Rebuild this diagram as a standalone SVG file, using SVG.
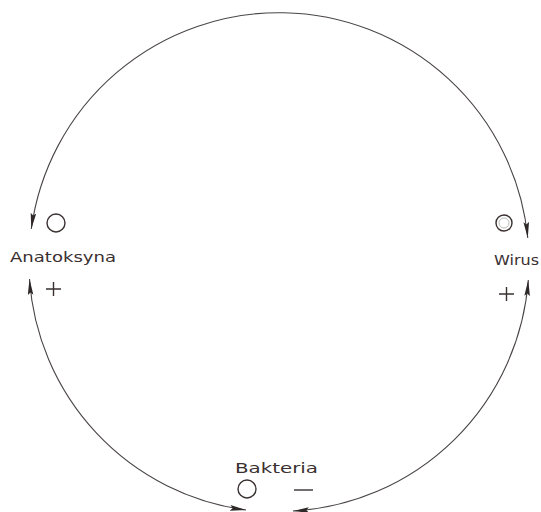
<svg xmlns="http://www.w3.org/2000/svg" width="541" height="512" viewBox="0 0 541 512">
<style>
.arc{fill:none;stroke:#4a4545;stroke-width:1.1}
.sym{fill:none;stroke:#3a3030;stroke-width:1.4}
.lbl{font-family:"DejaVu Sans","Liberation Sans",sans-serif;font-size:14px;fill:#3a3030}
</style>
<defs>
<marker id="ah" viewBox="0 0 16 6" refX="16" refY="3" markerWidth="16" markerHeight="6" markerUnits="userSpaceOnUse" orient="auto-start-reverse">
<path d="M0,0.2 L16,3 L0,5.8 L2.5,3 z" fill="#2e2828"/>
</marker>
</defs>
<rect width="541" height="512" fill="#ffffff"/>
<g id="connectors">
<path class="arc" d="M31.3,229 A250,250 0 0 1 527.8,238" marker-start="url(#ah)" marker-end="url(#ah)"/>
<path class="arc" d="M29.5,279 A250,250 0 0 0 246,510" marker-start="url(#ah)" marker-end="url(#ah)"/>
<path class="arc" d="M528.3,280 A250,250 0 0 1 293,511" marker-start="url(#ah)" marker-end="url(#ah)"/>
</g>
<g id="anatoksyna">
<circle class="sym" cx="56" cy="223" r="9"/>
<text class="lbl" x="10" y="262" textLength="106" lengthAdjust="spacingAndGlyphs">Anatoksyna</text>
<path class="sym" d="M46,289 H61 M53.5,282 V296"/>
</g>
<g id="wirus">
<circle class="sym" cx="504" cy="223" r="8" stroke="#777"/>
<circle cx="504" cy="223" r="5" fill="none" stroke="#bbb" stroke-width="1"/>
<text class="lbl" x="494" y="265" textLength="45" lengthAdjust="spacingAndGlyphs">Wirus</text>
<path class="sym" d="M499,294 H514 M506.5,287 V301"/>
</g>
<g id="bakteria">
<text class="lbl" x="235" y="473" textLength="83" lengthAdjust="spacingAndGlyphs">Bakteria</text>
<circle class="sym" cx="247" cy="489" r="9"/>
<path class="sym" d="M294,490 H313"/>
</g>
</svg>
